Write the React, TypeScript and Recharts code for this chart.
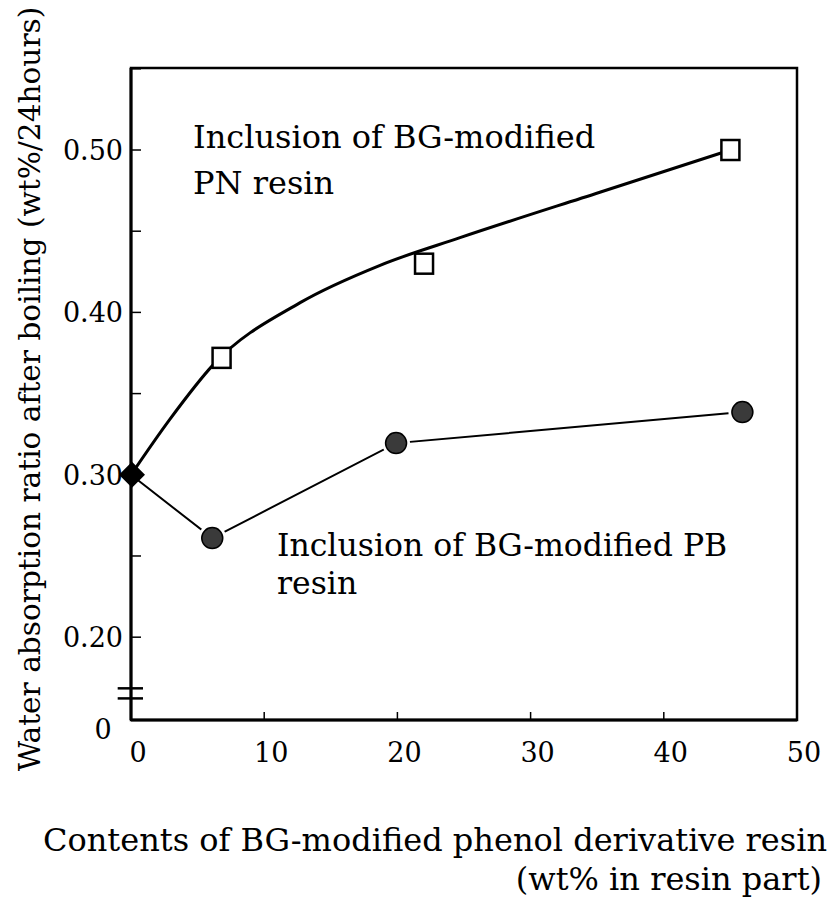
import React from 'react';
import { ComposedChart, Line, XAxis, YAxis, ReferenceArea, ReferenceLine, Scatter } from 'recharts';

// ---- data ----
// measured markers
const pnContent = [6.8, 22, 45];
const pnAbsorption = [0.372, 0.430, 0.50];
const pbContent = [0, 6.1, 19.9, 45.9];
const pbAbsorption = [0.30, 0.261, 0.3195, 0.3386];
const originContent = [0];
const originAbsorption = [0.30];
// fitted curve for PN resin
const pnCurveContent = [0, 2.9, 6.2, 12.7, 18.7, 24.7, 35.2, 45];
const pnCurveAbsorption = [0.30, 0.334, 0.368, 0.406, 0.429, 0.446, 0.474, 0.50];

const xTicks = [0, 10, 20, 30, 40, 50];
const xTickLabels = ['0', '10', '20', '30', '40', '50'];
const yMin = 0.149;
const yMax = 0.5505;
const yMajorTicks = [0.2, 0.3, 0.4, 0.5];
const yMajorLabels = ['0.20', '0.30', '0.40', '0.50'];
const yMinorTicks = [0.25, 0.35, 0.45, 0.55];
const yBreakLabel = '0';
const breakMarks = [0.1685, 0.1623];

const pnData = pnContent.map((x, i) => ({ x, y: pnAbsorption[i] }));
const pnCurve = pnCurveContent.map((x, i) => ({ x, y: pnCurveAbsorption[i] }));
const pbData = pbContent.map((x, i) => ({ x, y: pbAbsorption[i] }));
const originData = originContent.map((x, i) => ({ x, y: originAbsorption[i] }));
const yTicks = [yMin, ...yMajorTicks, ...yMinorTicks].sort((a, b) => a - b);

const FONT = '"DejaVu Serif", serif';

const YTick = (props: any) => {
  const { x, y, payload } = props;
  const v = payload.value;
  if (Math.abs(v - yMin) < 1e-9) {
    return (
      <text x={x - 20} y={y + 19} textAnchor="middle" fontFamily={FONT} fontSize={27} fill="#000">
        {yBreakLabel}
      </text>
    );
  }
  const mi = yMajorTicks.findIndex((t) => Math.abs(t - v) < 1e-9);
  return (
    <g>
      <line x1={x + 8} x2={x + 18} y1={y} y2={y} stroke="#000" strokeWidth={1.5} />
      {mi >= 0 && (
        <text x={x} y={y + 10} textAnchor="end" fontFamily={FONT} fontSize={27} fill="#000">
          {yMajorLabels[mi]}
        </text>
      )}
    </g>
  );
};

const XTick = (props: any) => {
  const { x, y, payload, index } = props;
  const axisY = y - 14;
  const inner = index > 0 && index < xTicks.length - 1;
  return (
    <g>
      {inner && <line x1={x} x2={x} y1={axisY} y2={axisY - 8} stroke="#000" strokeWidth={1.5} />}
      <text x={x + 7} y={y + 28} textAnchor="middle" fontFamily={FONT} fontSize={27} fill="#000">
        {xTickLabels[xTicks.indexOf(payload.value)]}
      </text>
    </g>
  );
};

const SquareShape = (props: any) => {
  const { cx, cy } = props;
  if (cx == null || cy == null) return null;
  return <rect x={cx - 9} y={cy - 10} width={18} height={20} fill="#fff" stroke="#000" strokeWidth={2.5} />;
};

const CircleDot = (props: any) => {
  const { cx, cy, index } = props;
  if (cx == null || cy == null || index === 0) return null;
  return (
    <g>
      <circle cx={cx} cy={cy} r={14} fill="#fff" />
      <circle cx={cx} cy={cy} r={10.5} fill="#3a3a3a" stroke="#000" strokeWidth={1.5} />
    </g>
  );
};

const DiamondShape = (props: any) => {
  const { cx, cy } = props;
  const r = 13;
  return <path d={`M${cx + 1},${cy - r} L${cx + 1 + r},${cy} L${cx + 1},${cy + r} L${cx + 1 - r},${cy} Z`} fill="#000" />;
};

export default function App() {
  return (
    <div style={{ position: 'absolute', left: 0, top: 0, width: 830, height: 900, background: '#fff' }}>
      <ComposedChart width={830} height={900} margin={{ top: 68, right: 33, left: 0, bottom: 120 }}>
        <XAxis
          type="number"
          dataKey="x"
          domain={[0, 50]}
          ticks={xTicks}
          interval={0}
          tickSize={0}
          tickMargin={14}
          height={60}
          axisLine={{ stroke: '#000', strokeWidth: 3 }}
          tickLine={false}
          tick={<XTick />}
        />
        <YAxis
          type="number"
          dataKey="y"
          domain={[yMin, yMax]}
          ticks={yTicks}
          interval={0}
          tickSize={0}
          tickMargin={8}
          width={131}
          axisLine={{ stroke: '#000', strokeWidth: 3 }}
          tickLine={false}
          tick={<YTick />}
        />
        <ReferenceArea x1={0} x2={50} y1={yMin} y2={yMax} fill="none" fillOpacity={0} stroke="#000" strokeWidth={2.5} ifOverflow="visible" />
        {breakMarks.map((b) => (
          <ReferenceLine key={b} segment={[{ x: -1.0, y: b }, { x: 0.9, y: b }]} stroke="#000" strokeWidth={2.5} ifOverflow="visible" />
        ))}
        <Line data={pbData} dataKey="y" type="linear" stroke="#000" strokeWidth={2} dot={<CircleDot />} activeDot={false} isAnimationActive={false} />
        <Line data={pnCurve} dataKey="y" type="monotone" stroke="#000" strokeWidth={3} dot={false} activeDot={false} isAnimationActive={false} />
        <Scatter data={pnData} dataKey="y" shape={<SquareShape />} isAnimationActive={false} />
        <Scatter data={originData} dataKey="y" shape={<DiamondShape />} isAnimationActive={false} />
      </ComposedChart>
      <svg width={830} height={900} style={{ position: 'absolute', left: 0, top: 0, pointerEvents: 'none' }}>
        <g fontFamily={FONT} fill="#000">
          <text x={40} y={389} fontSize={29.6} textAnchor="middle" transform="rotate(-90 40 389)">
            Water absorption ratio after boiling (wt%/24hours)
          </text>
          <text x={193} y={148} fontSize={32}>Inclusion of BG-modified</text>
          <text x={193} y={194} fontSize={32}>PN resin</text>
          <text x={277} y={556} fontSize={31.5}>Inclusion of BG-modified PB</text>
          <text x={277} y={594} fontSize={31.5}>resin</text>
          <text x={43} y={851} fontSize={32}>Contents of BG-modified phenol derivative resin</text>
          <text x={822} y={890} fontSize={32} textAnchor="end">(wt% in resin part)</text>
        </g>
      </svg>
    </div>
  );
}
